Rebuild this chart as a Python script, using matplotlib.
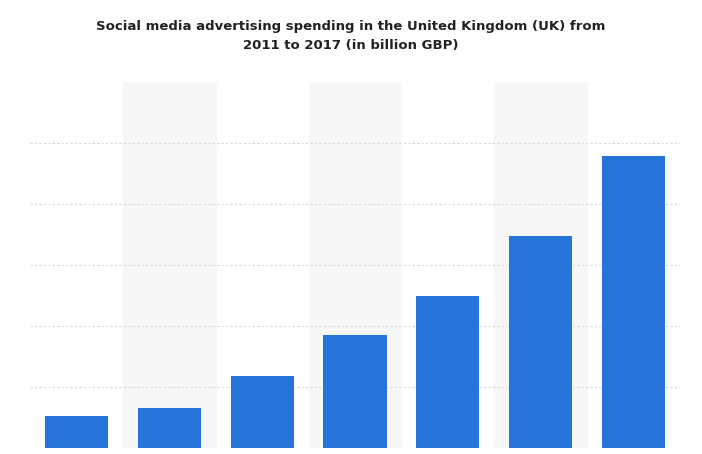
import matplotlib
matplotlib.use("Agg")
import matplotlib.pyplot as plt

years = ["2011", "2012", "2013", "2014", "2015", "2016", "2017"]
spending = [0.26, 0.33, 0.59, 0.93, 1.25, 1.74, 2.39]

fig = plt.figure(figsize=(7.02, 4.54), dpi=100)
fig.patch.set_facecolor("white")
ax = fig.add_axes([30/702, 6/454, 650/702, (448-82)/454 + 0.0])
x = range(len(years))
for i in x:
    if i % 2 == 1:
        ax.axvspan(i - 0.5, i + 0.5, color="#f7f7f7", zorder=0)
ax.bar(x, spending, width=0.68, color="#2474d9", zorder=3)
ax.set_xlim(-0.5, len(years) - 0.5)
ax.set_ylim(0, 3.0)
ax.set_yticks([0.5, 1.0, 1.5, 2.0, 2.5])
ax.yaxis.grid(True, color="#d8d8d8", linestyle=(0, (2, 2)), linewidth=0.8, zorder=1)
ax.set_xticks([])
ax.tick_params(left=False, labelleft=False)
for s in ax.spines.values():
    s.set_visible(False)
ax.axhline(0, color="#bbbbbb", linewidth=0.8, zorder=4)
fig.text(0.5, 0.955, "Social media advertising spending in the United Kingdom (UK) from\n2011 to 2017 (in billion GBP)",
         ha="center", va="top", fontsize=9.5, fontweight="bold", color="#222222", linespacing=1.6)
fig.savefig("out.png", dpi=100)
